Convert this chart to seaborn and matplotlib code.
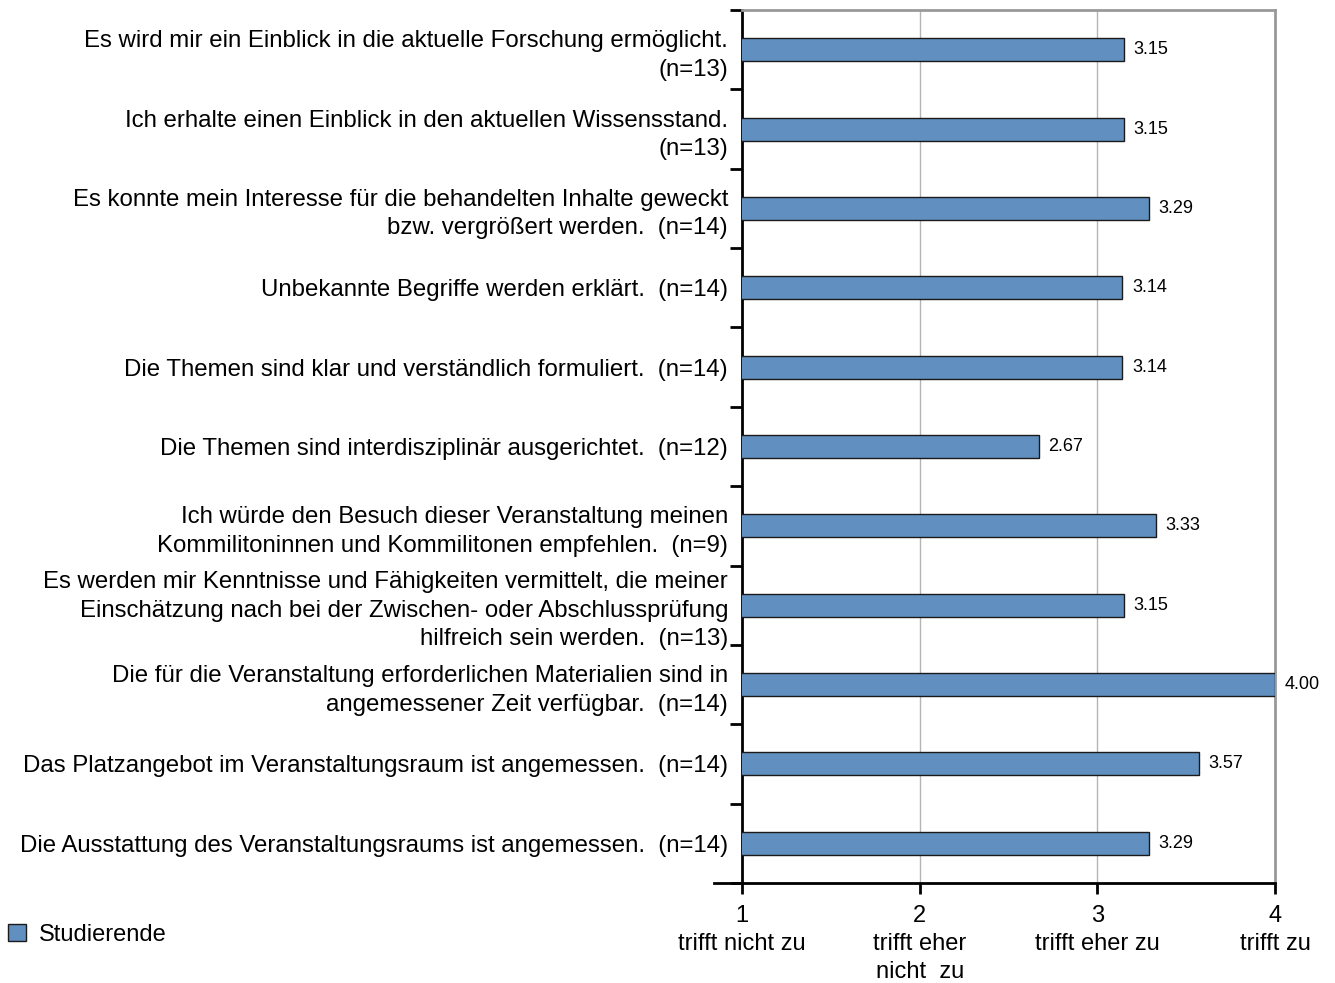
import matplotlib
matplotlib.use("Agg")
import matplotlib.pyplot as plt
import seaborn as sns
import pandas as pd
import numpy as np
from matplotlib.patches import Patch

categories = [
    "Es wird mir ein Einblick in die aktuelle Forschung ermöglicht.\n(n=13)",
    "Ich erhalte einen Einblick in den aktuellen Wissensstand.\n(n=13)",
    "Es konnte mein Interesse für die behandelten Inhalte geweckt\nbzw. vergrößert werden.  (n=14)",
    "Unbekannte Begriffe werden erklärt.  (n=14)",
    "Die Themen sind klar und verständlich formuliert.  (n=14)",
    "Die Themen sind interdisziplinär ausgerichtet.  (n=12)",
    "Ich würde den Besuch dieser Veranstaltung meinen\nKommilitoninnen und Kommilitonen empfehlen.  (n=9)",
    "Es werden mir Kenntnisse und Fähigkeiten vermittelt, die meiner\nEinschätzung nach bei der Zwischen- oder Abschlussprüfung\nhilfreich sein werden.  (n=13)",
    "Die für die Veranstaltung erforderlichen Materialien sind in\nangemessener Zeit verfügbar.  (n=14)",
    "Das Platzangebot im Veranstaltungsraum ist angemessen.  (n=14)",
    "Die Ausstattung des Veranstaltungsraums ist angemessen.  (n=14)",
]
values = [3.15, 3.15, 3.29, 3.14, 3.14, 2.67, 3.33, 3.15, 4.00, 3.57, 3.29]
series_name = "Studierende"
x_ticks = [1, 2, 3, 4]
x_tick_labels = ["1\ntrifft nicht zu", "2\ntrifft eher\nnicht  zu", "3\ntrifft eher zu", "4\ntrifft zu"]

sns.set_style("white")
plt.rcParams['font.family'] = ['Liberation Sans', 'DejaVu Sans']
plt.rcParams['text.color'] = 'black'
plt.rcParams['xtick.color'] = 'black'
plt.rcParams['ytick.color'] = 'black'
plt.rcParams['xtick.labelcolor'] = 'black'
plt.rcParams['ytick.labelcolor'] = 'black'

df = pd.DataFrame({"Aussage": categories, "Mittelwert": values, "Gruppe": series_name})

fig = plt.figure(figsize=(13.35, 9.83), dpi=100)
ax = fig.add_axes([742/1335, 1-883/983, (1275-742)/1335, (883-10)/983])

bar_color = "#6190c0"
sns.barplot(data=df, y="Aussage", x="Mittelwert", hue="Gruppe", palette=[bar_color],
            orient="h", width=0.29, dodge=False, saturation=1,
            edgecolor="#1a1a1a", linewidth=1.0,
            ax=ax, legend=False, zorder=3)

ax.set_xlim(1, 4)
ax.set_ylim(len(categories) - 0.5, -0.5)
ax.set_xlabel("")
ax.set_ylabel("")

# grid
for gx in [2, 3]:
    ax.axvline(gx, color="#b4b4b4", linewidth=1.0, zorder=1)

# spines
ax.spines["left"].set_color("black")
ax.spines["left"].set_linewidth(2)
ax.spines["bottom"].set_color("black")
ax.spines["bottom"].set_linewidth(2)
ax.spines["bottom"].set_bounds(1 - 0.16, 4)
ax.spines["top"].set_color("#999999")
ax.spines["top"].set_linewidth(2)
ax.spines["right"].set_color("#999999")
ax.spines["right"].set_linewidth(2)

# y ticks: labels at centres, tick marks at boundaries
ax.set_yticks(range(len(categories)))
ax.set_yticklabels(categories, fontsize=17.3, linespacing=1.38)
ax.tick_params(axis="y", which="major", length=0, pad=10)
ax.set_yticks(np.arange(-0.5, len(categories) + 0.5, 1.0), minor=True)
ax.tick_params(axis="y", which="minor", length=9, width=2, color="black", direction="out", left=True)

ax.set_xticks(x_ticks)
ax.set_xticklabels(x_tick_labels, fontsize=17, linespacing=1.35)
ax.tick_params(axis="x", which="major", length=8, width=2, color="black", direction="out", bottom=True, pad=8)

for cont in ax.containers:
    ax.bar_label(cont, fmt="%.2f", padding=7, fontsize=13)

# legend
handle = Patch(facecolor=bar_color, edgecolor="#1a1a1a", linewidth=1.0, label=series_name)
fig.legend(handles=[handle], loc="center left", bbox_to_anchor=(-0.002, 1 - 935/983),
           frameon=False, fontsize=17, handlelength=0.75, handleheight=0.75,
           handletextpad=0.55, borderaxespad=0.0, borderpad=0.45)

fig.savefig("out.png", dpi=100)
